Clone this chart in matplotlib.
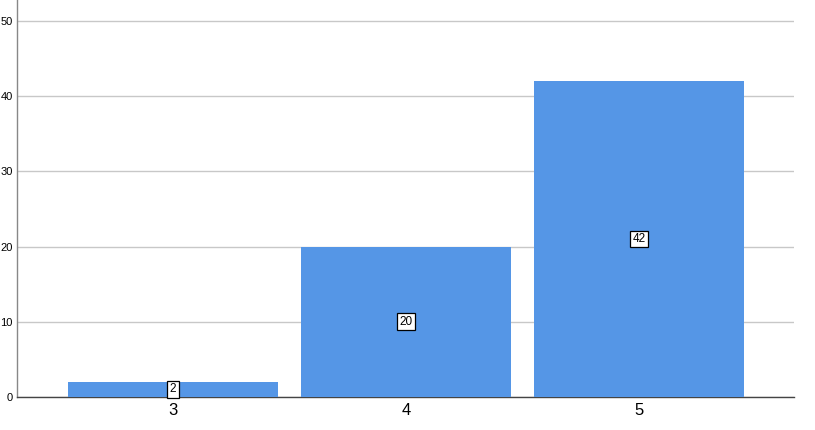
import matplotlib
matplotlib.use("Agg")
import matplotlib.pyplot as plt

categories = ["3", "4", "5"]
counts = [2, 20, 42]
yticks = [0, 10, 20, 30, 40, 50]

W, H = 815, 430
fig = plt.figure(figsize=(W / 100, H / 100), dpi=100)
ax = fig.add_axes([17 / W, (H - 397) / H, (794 - 17) / W, (397 - 0) / H])

x = list(range(len(categories)))
ax.bar(x, counts, width=0.9, color="#5596E6", zorder=3)
for xi, c in zip(x, counts):
    ax.text(xi, c / 2, str(c), ha="center", va="center", fontsize=8.5,
            family="Liberation Sans", zorder=4,
            bbox=dict(boxstyle="square,pad=0.2", fc="white", ec="black", lw=0.9))

ax.set_xlim(-0.67, 2.665)
ax.set_ylim(0, 52.8)
ax.set_yticks(yticks)
ax.set_yticklabels([str(v) for v in yticks], family="Liberation Sans", fontsize=8)
ax.set_xticks(x)
ax.set_xticklabels(categories, family="Liberation Sans", fontsize=12)
ax.tick_params(axis="both", length=0)
ax.tick_params(axis="y", pad=3)
ax.tick_params(axis="x", pad=4)
ax.yaxis.grid(True, color="#C8C8C8", lw=1.0, zorder=1)
ax.set_axisbelow(True)
for s in ["top", "right"]:
    ax.spines[s].set_visible(False)
ax.spines["left"].set_color("#888888")
ax.spines["bottom"].set_color("#444444")
ax.spines["left"].set_linewidth(1.0)
ax.spines["bottom"].set_linewidth(1.0)

fig.savefig("out.png", dpi=100)
